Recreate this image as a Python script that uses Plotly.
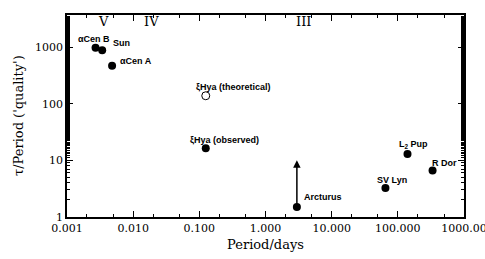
import math
import plotly.graph_objects as go

# Data
star_names = ["αCen B", "Sun", "αCen A", "ξHya (observed)", "Arcturus", "SV Lyn", "L<sub>2</sub> Pup", "R Dor"]
star_period = [0.0027, 0.0034, 0.0048, 0.125, 2.98, 65.0, 140.0, 335.0]
star_quality = [970, 880, 466, 16.3, 1.5, 3.25, 12.9, 6.6]

theo_name = "ξHya (theoretical)"
theo_period = [0.125]
theo_quality = [138]

arcturus_upper = 10.0

class_labels = ["V", "IV", "III"]
class_period = [0.0035, 0.019, 3.76]
class_quality = [2860, 2860, 2860]

x_tickvals = [0.001, 0.01, 0.1, 1, 10, 100, 1000]
x_ticktext = ["0.001", "0.010", "0.100", "1.000", "10.000", "100.000", "1000.00"]
y_tickvals = [1, 10, 100, 1000]
y_ticktext = ["1", "10", "100", "1000"]

# label offsets (pixels) and anchors per star
label_anchor = ["center", "left", "left", "left", "left", "center", "left", "left"]
label_dx = [-2, 9, 6, -18, 5, 7, -10, -3]
label_dy = [9, 7, 5, 8, 10, 8, 10, 8]

serif = "DejaVu Serif"
sans = "Liberation Sans"
fig = go.Figure()

fig.add_trace(go.Scatter(
    x=star_period, y=star_quality, mode="markers",
    marker=dict(size=8, color="black"), showlegend=False, hoverinfo="skip"))
fig.add_trace(go.Scatter(
    x=theo_period, y=theo_quality, mode="markers",
    marker=dict(size=8, color="white", line=dict(color="black", width=1)),
    showlegend=False, hoverinfo="skip"))

ann = []
for n, px, qy, a, dx, dy in zip(star_names, star_period, star_quality, label_anchor, label_dx, label_dy):
    ann.append(dict(x=math.log10(px), y=math.log10(qy), text="<b>" + n + "</b>", showarrow=False,
                    xanchor=a, yanchor="middle", xshift=dx, yshift=dy,
                    font=dict(family=sans, size=9, color="black")))
ann.append(dict(x=math.log10(theo_period[0]), y=math.log10(theo_quality[0]), text="<b>" + theo_name + "</b>",
                showarrow=False, xanchor="left", yanchor="middle", xshift=-12, yshift=9,
                font=dict(family=sans, size=9, color="black")))
for t, px, qy in zip(class_labels, class_period, class_quality):
    ann.append(dict(x=math.log10(px), y=math.log10(qy), text=t, showarrow=False,
                    xanchor="center", yanchor="middle",
                    font=dict(family=serif, size=13, color="black")))
# Arcturus upper-limit arrow
ai = star_names.index("Arcturus")
ann.append(dict(x=math.log10(star_period[ai]), y=math.log10(arcturus_upper),
                ax=math.log10(star_period[ai]), ay=math.log10(star_quality[ai]),
                xref="x", yref="y", axref="x", ayref="y", text="", showarrow=True,
                arrowhead=2, arrowsize=1, arrowwidth=1.5, arrowcolor="black",
                standoff=0, startstandoff=0))
# Y-axis title
ann.append(dict(x=0, y=0.5, xref="paper", yref="paper", xshift=-49, text="τ/Period ('quality')",
                textangle=-90, showarrow=False, xanchor="center", yanchor="middle",
                font=dict(family=serif, size=13, color="black")))

fig.update_layout(
    width=485, height=259,
    margin=dict(l=67, r=21, t=15, b=42, autoexpand=False),
    paper_bgcolor="white", plot_bgcolor="white",
    annotations=ann,
    xaxis=dict(type="log", range=[-3.0002, 3.0002], tickvals=x_tickvals, ticktext=x_ticktext,
               ticks="inside", ticklen=6, tickwidth=1, tickcolor="black",
               minor=dict(ticks="inside", ticklen=3, tickcolor="black", showgrid=False),
               showline=True, linecolor="black", linewidth=1.5, mirror="ticks",
               showgrid=False, zeroline=False, automargin=False, ticklabeloverflow="allow",
               tickfont=dict(family=serif, size=11, color="black"),
               title=dict(text="Period/days", font=dict(family=serif, size=13, color="black"), standoff=6)),
    yaxis=dict(type="log", range=[-0.0002, 3.565], tickvals=y_tickvals, ticktext=y_ticktext,
               ticks="inside", ticklen=6, tickwidth=1, tickcolor="black",
               minor=dict(ticks="inside", ticklen=3, tickcolor="black", showgrid=False),
               showline=True, linecolor="black", linewidth=1.5, mirror="ticks",
               showgrid=False, zeroline=False, automargin=False, ticklabeloverflow="allow",
               tickfont=dict(family=serif, size=11, color="black")),
)

fig.write_html("out.html", config={"displayModeBar": False},
               post_script="document.body.style.margin='0';")
